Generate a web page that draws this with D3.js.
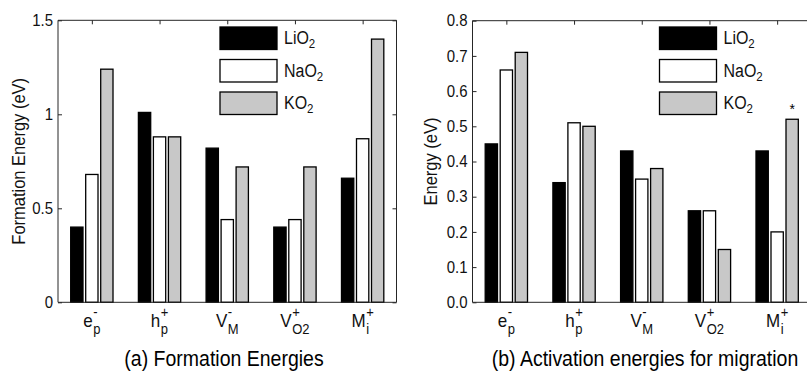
<!DOCTYPE html>
<html>
<head>
<meta charset="utf-8">
<script src="https://cdn.jsdelivr.net/npm/d3@7"></script>
<style>
  body { margin: 0; background: #fff; }
  svg { display: block; font-family: "Liberation Sans", Arial, Helvetica, sans-serif; }
</style>
</head>
<body>
<div id="chart"></div>
<script>
// categories (tick label parts)
const labelBase = ["e", "h", "V", "V", "M"];
const labelSub  = ["p", "p", "M", "O2", "i"];
const labelSup  = ["-", "+", "-", "+", "+"];
const categories = d3.range(labelBase.length);

const series = ["LiO2", "NaO2", "KO2"];
const seriesFill = ["#000000", "#ffffff", "#c8c8c8"];

// (a) formation energies (eV)
const formationLiO2 = [0.40, 1.01, 0.82, 0.40, 0.66];
const formationNaO2 = [0.68, 0.88, 0.44, 0.44, 0.87];
const formationKO2  = [1.24, 0.88, 0.72, 0.72, 1.40];
const formationTicks = [0, 0.5, 1, 1.5];

// (b) activation energies (eV)
const activationLiO2 = [0.45, 0.34, 0.43, 0.26, 0.43];
const activationNaO2 = [0.66, 0.51, 0.35, 0.26, 0.20];
const activationKO2  = [0.71, 0.50, 0.38, 0.15, 0.52];
const activationTicks = [0, 0.1, 0.2, 0.3, 0.4, 0.5, 0.6, 0.7, 0.8];

const W = 807, H = 372;
const svg = d3.select("#chart").append("svg").attr("width", W).attr("height", H);
const axisColor = "#262626";
const stretch = 1.1; // text in the figure is a bit taller than wide

// text placed at (x, y) and stretched vertically
function addText(sel, x, y, size, str) {
  return sel.append("text")
    .attr("transform", `translate(${x},${y}) scale(1,${stretch})`)
    .attr("font-size", size).attr("fill", "#111").text(str);
}

function drawPanel(opt) {
  const { left, right, top, bottom, yMax, ticks, tickFmt, values, ylabel, ylabelX, caption, captionX, legendX, star } = opt;

  const x0 = d3.scaleBand().domain(categories).range([left, right])
    .paddingInner(0.375).paddingOuter(0.1875);
  const x1 = d3.scaleBand().domain(series).range([0, x0.bandwidth()])
    .paddingInner(0.18).paddingOuter(0);
  const y = d3.scaleLinear().domain([0, yMax]).range([bottom, top]);

  const g = svg.append("g");

  // inward ticks on all four sides
  const xc = d3.scalePoint().domain(categories).range([x0(0) + x0.bandwidth() / 2, x0(4) + x0.bandwidth() / 2]);
  g.append("g").attr("transform", `translate(0,${top})`)
    .call(d3.axisTop(xc).tickSize(-4).tickSizeOuter(0).tickFormat(""));
  g.append("g").attr("transform", `translate(0,${bottom})`)
    .call(d3.axisBottom(xc).tickSize(-4).tickSizeOuter(0).tickFormat(""));
  g.append("g").attr("transform", `translate(${right},0)`)
    .call(d3.axisRight(y).tickValues(ticks).tickSize(-4).tickSizeOuter(0).tickFormat(""));
  const ya = g.append("g").attr("transform", `translate(${left},0)`)
    .call(d3.axisLeft(y).tickValues(ticks).tickSize(-4).tickSizeOuter(0).tickPadding(5).tickFormat(tickFmt));
  g.selectAll(".domain").remove();
  g.selectAll(".tick line").attr("stroke", axisColor);
  ya.selectAll("text").attr("font-size", 15).attr("fill", "#111")
    .attr("font-family", "Liberation Sans, Arial, sans-serif")
    .attr("transform", `scale(1,${stretch})`);

  // bars
  const rows = [];
  series.forEach((s, si) => values[si].forEach((v, ci) => rows.push({ s, si, ci, v })));
  g.selectAll("rect.bar").data(rows).enter().append("rect")
    .attr("class", "bar")
    .attr("x", d => x0(d.ci) + x1(d.s))
    .attr("y", d => y(d.v))
    .attr("width", x1.bandwidth())
    .attr("height", d => y(0) - y(d.v))
    .attr("fill", d => seriesFill[d.si])
    .attr("stroke", "#000")
    .attr("stroke-width", 1.3);

  // axes box
  g.append("path")
    .attr("d", `M${left},${top}H${right}M${left},${top}V${bottom}H${right}V${top}`)
    .attr("fill", "none").attr("stroke", axisColor).attr("stroke-width", 1);

  // x tick labels with sub/superscripts
  categories.forEach(ci => {
    const lg = g.append("g");
    const base = addText(lg, 0, 327, 17, labelBase[ci]);
    const bw = base.node().getComputedTextLength();
    const sub = addText(lg, bw + 0.5, 333.5, 13, labelSub[ci]);
    const sup = addText(lg, bw + 0.5, 317, 13, labelSup[ci]);
    const tw = bw + 0.5 + Math.max(sub.node().getComputedTextLength(), sup.node().getComputedTextLength());
    lg.attr("transform", `translate(${xc(ci) - tw / 2},0)`);
  });

  // y label
  g.append("text")
    .attr("transform", `translate(${ylabelX},${(top + bottom) / 2}) rotate(-90) scale(1,${stretch})`)
    .attr("text-anchor", "middle").attr("font-size", 16.5).attr("fill", "#111")
    .text(ylabel);

  // caption
  addText(g, captionX, 366, 19.5, caption)
    .attr("text-anchor", "middle").attr("fill", "#000");

  // legend
  const lgd = g.append("g");
  series.forEach((s, si) => {
    const ly = 27 + si * 32.5;
    lgd.append("rect").attr("x", legendX).attr("y", ly).attr("width", 57).attr("height", 22.5)
      .attr("fill", seriesFill[si]).attr("stroke", "#000").attr("stroke-width", 1.3);
    const t = addText(lgd, legendX + 64, ly + 17, 16, null);
    t.append("tspan").text(s.slice(0, -1));
    t.append("tspan").attr("font-size", 11.5).attr("dy", 4).text(s.slice(-1));
  });

  if (star) {
    g.append("text")
      .attr("x", x0(star.ci) + x1(series[star.si]) + x1.bandwidth() / 2)
      .attr("y", y(values[star.si][star.ci]) - 5)
      .attr("text-anchor", "middle").attr("font-size", 14).text("*");
  }
}

drawPanel({
  left: 58, right: 396.5, top: 20.3, bottom: 302.3, yMax: 1.5,
  ticks: formationTicks, tickFmt: d3.format("~g"),
  values: [formationLiO2, formationNaO2, formationKO2],
  ylabel: "Formation Energy (eV)", ylabelX: 25,
  caption: "(a) Formation Energies", captionX: 224,
  legendX: 220
});

drawPanel({
  left: 472.5, right: 811, top: 20.7, bottom: 302.3, yMax: 0.8,
  ticks: activationTicks, tickFmt: d3.format(".1f"),
  values: [activationLiO2, activationNaO2, activationKO2],
  ylabel: "Energy (eV)", ylabelX: 437,
  caption: "(b) Activation energies for migration", captionX: 645,
  legendX: 659.5,
  star: { si: 2, ci: 4 }
});
</script>
</body>
</html>
